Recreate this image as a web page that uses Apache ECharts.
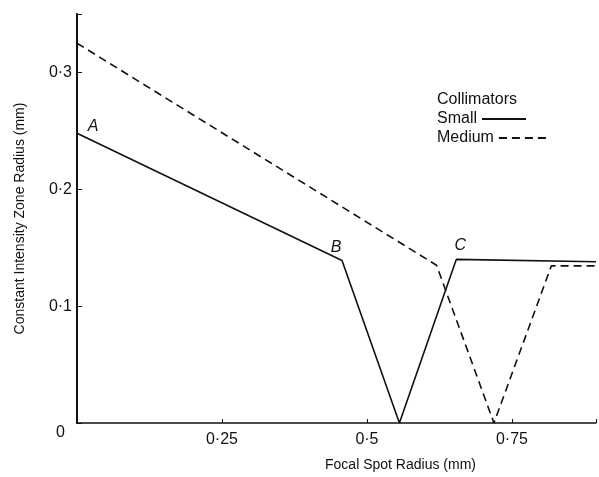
<!DOCTYPE html>
<html>
<head>
<meta charset="utf-8">
<script src="https://cdn.jsdelivr.net/npm/echarts@6/dist/echarts.min.js"></script>
<style>html,body{margin:0;padding:0;background:#fff}#c{width:599px;height:477px}</style>
</head>
<body>
<div id="c"></div>
<script>
// Data
var smallX = [0, 0.457, 0.556, 0.654, 0.895];
var smallY = [0.248, 0.139, 0, 0.140, 0.138];
var smallLabels = ['A', 'B', '', 'C', ''];
var mediumX = [0, 0.620, 0.719, 0.818, 0.895];
var mediumY = [0.325, 0.135, 0, 0.1345, 0.1345];
var xTickLabels = {0.25: '0·25', 0.5: '0·5', 0.75: '0·75'};
var yTickLabels = {0: '0', 0.1: '0·1', 0.2: '0·2', 0.3: '0·3'};
var seriesNames = ['Small', 'Medium'];
var legendTitle = 'Collimators';

var FONT = '"Liberation Sans", Arial, sans-serif';
var labelOffsets = {A: [16, 7], B: [-6, 0], C: [4, 0]};

function key(v){ return Math.round(v * 1000) / 1000; }

var smallData = smallX.map(function (x, i) {
  var d = {value: [x, smallY[i]]};
  var t = smallLabels[i];
  if (t) {
    d.label = {show: true, formatter: t, position: 'top', offset: labelOffsets[t],
      fontStyle: 'italic', fontSize: 16, color: '#111', fontFamily: FONT};
  }
  return d;
});
var mediumData = mediumX.map(function (x, i) { return [x, mediumY[i]]; });

var chart = echarts.init(document.getElementById('c'));
chart.setOption({
  animation: false,
  backgroundColor: '#fff',
  textStyle: {fontFamily: FONT},
  title: {
    text: legendTitle, left: 437, top: 92, padding: 0,
    textStyle: {fontSize: 16, fontWeight: 'normal', color: '#111', fontFamily: FONT}
  },
  legend: [
    {
      data: [seriesNames[0]], left: 437, top: 111, align: 'right', padding: 0,
      itemWidth: 44, itemHeight: 10, itemStyle: {opacity: 0},
      textStyle: {fontSize: 16, color: '#111', fontFamily: FONT}
    },
    {
      data: [seriesNames[1]], left: 437, top: 130, align: 'right', padding: 0,
      itemWidth: 48, itemHeight: 10, itemStyle: {opacity: 0},
      textStyle: {fontSize: 16, color: '#111', fontFamily: FONT}
    }
  ],
  grid: {left: 77, right: 0, top: 14, bottom: 54, containLabel: false},
  xAxis: {
    type: 'value', min: 0, max: 0.895, interval: 0.25,
    name: 'Focal Spot Radius (mm)', nameLocation: 'middle', nameGap: 35,
    nameTextStyle: {fontSize: 14, color: '#111', padding: [0, 0, 0, 128], fontFamily: FONT},
    axisLine: {lineStyle: {color: '#111', width: 1.5}},
    axisTick: {inside: true, length: 4, lineStyle: {color: '#111'}},
    axisLabel: {
      fontSize: 16, color: '#111', margin: 9, fontFamily: FONT,
      formatter: function (v) { return xTickLabels[key(v)] || ''; }
    },
    splitLine: {show: false}
  },
  yAxis: {
    type: 'value', min: 0, max: 0.35, interval: 0.1,
    name: 'Constant Intensity Zone Radius (mm)', nameLocation: 'middle', nameGap: 50,
    nameTextStyle: {fontSize: 14, color: '#111', fontFamily: FONT},
    axisLine: {lineStyle: {color: '#111', width: 2}},
    axisTick: {inside: true, length: 5, lineStyle: {color: '#111'}},
    axisLabel: {
      fontSize: 16, color: '#111', margin: 5, fontFamily: FONT,
      formatter: function (v) {
        var t = yTickLabels[key(v)];
        if (t === undefined) return '';
        return v === 0 ? '{z|' + t + '}' : t;
      },
      rich: {z: {fontSize: 16, color: '#111', padding: [20, 7, 0, 0], fontFamily: FONT}}
    },
    splitLine: {show: false}
  },
  series: [
    {
      name: seriesNames[0], type: 'line', data: smallData,
      symbol: 'circle', symbolSize: 1, showSymbol: true,
      lineStyle: {color: '#111', width: 1.6, type: 'solid'}, itemStyle: {color: 'rgba(0,0,0,0)'}
    },
    {
      name: seriesNames[1], type: 'line', data: mediumData, symbol: 'none',
      lineStyle: {color: '#111', width: 1.6, type: [8, 5]}, itemStyle: {color: '#111'}
    }
  ]
});
</script>
</body>
</html>
